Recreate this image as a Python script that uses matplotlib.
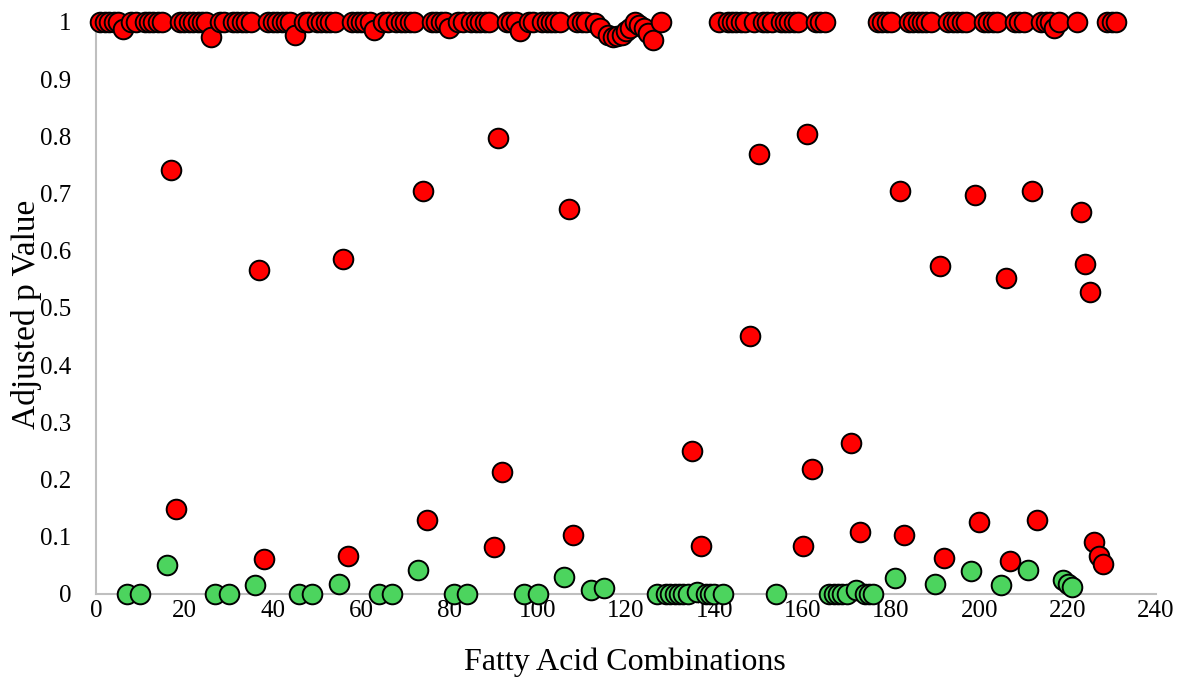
import matplotlib
matplotlib.use("Agg")
import matplotlib.pyplot as plt

# Non-significant combinations (red)
red_x = [1, 2, 3, 4, 5, 6, 8, 9, 11, 12, 13, 14, 15, 17, 18,
         19, 20, 21, 22, 23, 24, 25, 26, 28, 29, 31, 32, 33, 34, 35,
         37, 38, 39, 40, 41, 42, 43, 44, 45, 47, 48, 50, 51, 52, 53, 54,
         56, 57, 58, 59, 60, 61, 62, 63, 65, 66, 68, 69, 70, 71, 72,
         74, 75, 76, 77, 78, 79, 80, 82, 83, 85, 86, 87, 88, 89,
         90, 91, 92, 93, 94, 95, 96, 98, 99, 101, 102, 103, 104, 105,
         107, 108, 109, 110, 111, 113, 114, 116, 117, 118, 119, 120,
         121, 122, 123, 124, 125, 126, 128, 135, 137, 141,
         143, 144, 145, 146, 147, 148, 149, 150, 151, 152, 153,
         155, 156, 157, 158, 159, 160, 161, 162, 163, 164, 165,
         171, 173, 177, 178, 179, 180, 182, 183, 184, 185, 186, 187, 188, 189,
         191, 192, 193, 194, 195, 196, 197, 199, 200, 201, 202, 203, 204,
         206, 207, 208, 209, 210, 212, 213, 214, 215, 216, 217, 218,
         222, 223, 224, 225, 226, 227, 228, 229, 230, 231]
red_p = [1, 1, 1, 1, 1, 0.988, 1, 1, 1, 1, 1, 1, 1, 0.741, 0.149,
         1, 1, 1, 1, 1, 1, 1, 0.974, 1, 1, 1, 1, 1, 1, 1,
         0.566, 0.061, 1, 1, 1, 1, 1, 1, 0.977, 1, 1, 1, 1, 1, 1, 1,
         0.586, 0.066, 1, 1, 1, 1, 1, 0.986, 1, 1, 1, 1, 1, 1, 1,
         0.705, 0.129, 1, 1, 1, 1, 0.99, 1, 1, 1, 1, 1, 1, 1,
         0.082, 0.797, 0.213, 1, 1, 1, 0.985, 1, 1, 1, 1, 1, 1, 1,
         0.673, 0.103, 1, 1, 1, 0.998, 0.99, 0.978, 0.974, 0.975, 0.978, 0.985,
         0.99, 1, 0.995, 0.99, 0.98, 0.968, 1, 0.25, 0.084, 1,
         1, 1, 1, 1, 1, 0.451, 1, 0.769, 1, 1, 1,
         1, 1, 1, 1, 1, 0.084, 0.804, 0.218, 1, 1, 1,
         0.264, 0.108, 1, 1, 1, 1, 0.705, 0.103, 1, 1, 1, 1, 1, 1,
         0.573, 0.063, 1, 1, 1, 1, 1, 0.698, 0.126, 1, 1, 1, 1,
         0.552, 0.058, 1, 1, 1, 0.705, 0.129, 1, 1, 1, 0.99, 1,
         1, 0.668, 0.577, 0.528, 0.091, 0.066, 0.052, 1, 1, 1]

# Significant combinations (green)
green_x = [7, 10, 16, 27, 30, 36, 46, 49, 55, 64, 67, 73, 81, 84,
           97, 100, 106, 112, 115, 127, 129, 130, 131, 132, 133, 134,
           136, 138, 139, 140, 142, 154, 166, 167, 168, 169, 170, 172,
           174, 175, 176, 181, 190, 198, 205, 211, 219, 220, 221]
green_p = [0, 0, 0.05, 0, 0, 0.015, 0, 0, 0.017, 0, 0, 0.042, 0, 0,
           0, 0, 0.03, 0.007, 0.01, 0, 0, 0, 0, 0, 0, 0,
           0.004, 0, 0, 0, 0, 0, 0, 0, 0, 0, 0, 0.007,
           0, 0, 0, 0.028, 0.017, 0.04, 0.015, 0.042, 0.025, 0.018, 0.013]

x_ticks = [0, 20, 40, 60, 80, 100, 120, 140, 160, 180, 200, 220, 240]
y_ticks = [0, 0.1, 0.2, 0.3, 0.4, 0.5, 0.6, 0.7, 0.8, 0.9, 1]
y_tick_labels = ["0", "0.1", "0.2", "0.3", "0.4", "0.5", "0.6", "0.7", "0.8", "0.9", "1"]

plt.rcParams['font.family'] = ['Liberation Serif', 'DejaVu Serif']

fig = plt.figure(figsize=(11.78, 6.78), dpi=100)
ax = fig.add_axes([96 / 1178, 1 - 594 / 678, 1060 / 1178, 572 / 678])

ax.scatter(red_x, red_p, s=200, c="#FF0000", edgecolors="black",
           linewidths=1.4, clip_on=False, zorder=3)
ax.scatter(green_x, green_p, s=200, c="#4CD45E", edgecolors="black",
           linewidths=1.4, clip_on=False, zorder=3)

ax.set_xlim(0, 240)
ax.set_ylim(0, 1)
ax.set_xticks(x_ticks)
ax.set_yticks(y_ticks)
ax.set_yticklabels(y_tick_labels)
ax.tick_params(axis="both", length=0, labelsize=18, colors="black")
ax.tick_params(axis="x", pad=4)
ax.tick_params(axis="y", pad=18)

for side in ["top", "right"]:
    ax.spines[side].set_visible(False)
for side in ["left", "bottom"]:
    ax.spines[side].set_color("#BFBFBF")
    ax.spines[side].set_linewidth(1.5)

fig.text(625 / 1178, 1 - 662 / 678, "Fatty Acid Combinations", fontsize=23,
         ha="center", va="center")
fig.text(27 / 1178, 1 - 314 / 678, "Adjusted p Value", fontsize=24,
         ha="center", va="center", rotation=90)

fig.savefig("out.png", dpi=100)
